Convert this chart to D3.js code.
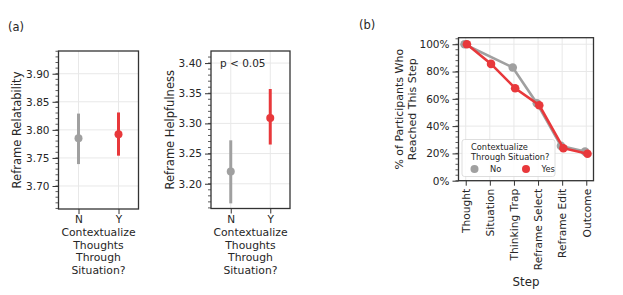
<!DOCTYPE html>
<html>
<head>
<meta charset="utf-8">
<script src="https://cdn.jsdelivr.net/npm/d3@7"></script>
<style>
  body { margin: 0; background: white; }
  text { font-family: "DejaVu Sans", sans-serif; fill: #262626; }
</style>
</head>
<body>
<div id="chart"></div>
<script>
// data
const groups = ["N", "Y"];
const relatabilityMean = [3.785, 3.792];
const relatabilityLow = [3.739, 3.754];
const relatabilityHigh = [3.829, 3.831];
const relatabilityTicks = [3.70, 3.75, 3.80, 3.85, 3.90];

const helpfulnessMean = [3.2205, 3.309];
const helpfulnessLow = [3.1675, 3.265];
const helpfulnessHigh = [3.272, 3.357];
const helpfulnessTicks = [3.20, 3.25, 3.30, 3.35, 3.40];

const steps = ["Thought", "Situation", "Thinking Trap", "Reframe Select", "Reframe Edit", "Outcome"];
const reachedNo = [1.00, null, 0.83, 0.568, 0.255, 0.213];
const reachedYes = [1.00, 0.856, 0.678, 0.553, 0.238, 0.198];
const percentTicks = [0, 0.2, 0.4, 0.6, 0.8, 1.0];

const grey = "#a0a0a0";
const red = "#e8383b";
const gridColor = "#e8e8e8";
const frameColor = "#333333";

const svg = d3.select("#chart").append("svg")
    .attr("width", 623)
    .attr("height", 295);

svg.append("rect").attr("width", 623).attr("height", 295).attr("fill", "white");

// panel labels
svg.append("text").attr("x", 8).attr("y", 31).style("font-size", "11.5px").text("(a)");
svg.append("text").attr("x", 359).attr("y", 29).style("font-size", "11.5px").text("(b)");

// helper: draw minor ticks on the left side
function minorTicks(g, scale, x0, step) {
    const [lo, hi] = scale.domain();
    const vals = d3.range(Math.ceil(lo / step - 1e-6) * step, hi, step);
    g.selectAll(".minor").data(vals).enter().append("line")
        .attr("x1", x0 - 3).attr("x2", x0)
        .attr("y1", d => scale(d)).attr("y2", d => scale(d))
        .attr("stroke", frameColor).attr("stroke-width", 0.8);
}

// point panel (a)
function pointPanel(opts) {
    const g = svg.append("g");
    const x = d3.scalePoint().domain(groups).range([opts.left, opts.right]).padding(0.5);
    const y = d3.scaleLinear().domain(opts.domain).range([opts.bottom, opts.top]);

    // grid
    g.selectAll(".hgrid").data(opts.ticks).enter().append("line")
        .attr("x1", opts.left).attr("x2", opts.right)
        .attr("y1", d => y(d)).attr("y2", d => y(d))
        .attr("stroke", gridColor).attr("stroke-width", 1);
    g.selectAll(".vgrid").data(groups).enter().append("line")
        .attr("x1", d => x(d)).attr("x2", d => x(d))
        .attr("y1", opts.top).attr("y2", opts.bottom)
        .attr("stroke", gridColor).attr("stroke-width", 1);

    // error bars and points
    const colors = [grey, red];
    groups.forEach((grp, i) => {
        g.append("line")
            .attr("x1", x(grp)).attr("x2", x(grp))
            .attr("y1", y(opts.low[i])).attr("y2", y(opts.high[i]))
            .attr("stroke", colors[i]).attr("stroke-width", 3);
        g.append("circle")
            .attr("cx", x(grp)).attr("cy", y(opts.mean[i]))
            .attr("r", 4).attr("fill", colors[i]);
    });

    // y axis
    const yAxis = g.append("g")
        .attr("transform", `translate(${opts.left},0)`)
        .call(d3.axisLeft(y).tickValues(opts.ticks).tickFormat(d3.format(".2f")).tickSize(6).tickPadding(3));
    yAxis.select(".domain").remove();
    yAxis.selectAll(".tick line").attr("stroke", frameColor).attr("stroke-width", 1);
    yAxis.selectAll(".tick text").style("font-size", "10.5px").attr("fill", "#262626");
    minorTicks(g, y, opts.left, 0.01);

    // x axis
    const xAxis = g.append("g")
        .attr("transform", `translate(0,${opts.bottom})`)
        .call(d3.axisBottom(x).tickSize(5).tickPadding(2));
    xAxis.select(".domain").remove();
    xAxis.selectAll(".tick line").attr("stroke", frameColor);
    xAxis.selectAll(".tick text").style("font-size", "10.5px").attr("fill", "#262626");

    // frame
    g.append("rect")
        .attr("x", opts.left).attr("y", opts.top)
        .attr("width", opts.right - opts.left).attr("height", opts.bottom - opts.top)
        .attr("fill", "none").attr("stroke", frameColor).attr("stroke-width", 1.3);

    // labels
    g.append("text")
        .attr("transform", `translate(${opts.labelX},${(opts.top + opts.bottom) / 2}) rotate(-90)`)
        .attr("text-anchor", "middle").attr("dy", "0.35em")
        .style("font-size", "11.5px").text(opts.label);

    // x label, one text per line
    ["Contextualize", "Thoughts", "Through", "Situation?"].forEach((t, i) => {
        g.append("text").attr("text-anchor", "middle").style("font-size", "10.8px")
            .attr("x", (opts.left + opts.right) / 2).attr("y", 236 + i * 12.6).text(t);
    });
    return { g, x, y };
}

pointPanel({
    left: 58.5, right: 138.5, top: 51, bottom: 209,
    domain: [3.659, 3.9405], ticks: relatabilityTicks,
    mean: relatabilityMean, low: relatabilityLow, high: relatabilityHigh,
    label: "Reframe Relatability", labelX: 17
});

const p2 = pointPanel({
    left: 211, right: 290, top: 51, bottom: 208.5,
    domain: [3.159, 3.42], ticks: helpfulnessTicks,
    mean: helpfulnessMean, low: helpfulnessLow, high: helpfulnessHigh,
    label: "Reframe Helpfulness", labelX: 170
});
p2.g.append("text").attr("x", 220).attr("y", 67).style("font-size", "10.5px").text("p < 0.05");

// panel (b)
const bL = 458.5, bR = 593.5, bT = 37.7, bB = 180.7;
const gb = svg.append("g");
const xb = d3.scalePoint().domain(steps).range([bL, bR]).padding(0.3);
const yb = d3.scaleLinear().domain([0, 1.048]).range([bB, bT]);

gb.selectAll(".hgrid").data(percentTicks).enter().append("line")
    .attr("x1", bL).attr("x2", bR)
    .attr("y1", d => yb(d)).attr("y2", d => yb(d))
    .attr("stroke", gridColor).attr("stroke-width", 1);
gb.selectAll(".vgrid").data(steps).enter().append("line")
    .attr("x1", d => xb(d)).attr("x2", d => xb(d))
    .attr("y1", bT).attr("y2", bB)
    .attr("stroke", gridColor).attr("stroke-width", 1);

const series = [
    { name: "No", values: reachedNo, color: grey, dodge: -1.2 },
    { name: "Yes", values: reachedYes, color: red, dodge: 1.2 }
];
const line = d3.line().x(d => d.x).y(d => d.y);
series.forEach(s => {
    const pts = steps.map((st, i) => ({ x: xb(st) + s.dodge, y: s.values[i] == null ? null : yb(s.values[i]) }))
        .filter(p => p.y != null);
    gb.append("path").attr("d", line(pts))
        .attr("fill", "none").attr("stroke", s.color).attr("stroke-width", 2.6);
    gb.selectAll(null).data(pts).enter().append("circle")
        .attr("cx", d => d.x).attr("cy", d => d.y).attr("r", 4.3).attr("fill", s.color);
});

const yAxisB = gb.append("g")
    .attr("transform", `translate(${bL},0)`)
    .call(d3.axisLeft(yb).tickValues(percentTicks).tickFormat(d3.format(".0%")).tickSize(6).tickPadding(3));
yAxisB.select(".domain").remove();
yAxisB.selectAll(".tick line").attr("stroke", frameColor);
yAxisB.selectAll(".tick text").style("font-size", "10.5px").attr("fill", "#262626");
minorTicks(gb, yb, bL, 0.04);

const xAxisB = gb.append("g")
    .attr("transform", `translate(0,${bB})`)
    .call(d3.axisBottom(xb).tickSize(5));
xAxisB.select(".domain").remove();
xAxisB.selectAll(".tick line").attr("stroke", frameColor);
xAxisB.selectAll(".tick text")
    .style("font-size", "10.7px").attr("fill", "#262626")
    .attr("text-anchor", "end")
    .attr("transform", "rotate(-90)")
    .attr("x", -8).attr("y", 0).attr("dy", "0.35em");

gb.append("rect")
    .attr("x", bL).attr("y", bT).attr("width", bR - bL).attr("height", bB - bT)
    .attr("fill", "none").attr("stroke", frameColor).attr("stroke-width", 1.3);

const ylb = gb.append("text")
    .attr("transform", `translate(405,${(bT + bB) / 2}) rotate(-90)`)
    .attr("text-anchor", "middle").style("font-size", "11px");
ylb.append("tspan").attr("x", 0).attr("y", -2).text("% of Participants Who");
ylb.append("tspan").attr("x", 0).attr("y", 10.5).text("Reached This Step");

gb.append("text").attr("x", (bL + bR) / 2).attr("y", 285.5).attr("text-anchor", "middle")
    .style("font-size", "11.8px").text("Step");

// legend
const lg = gb.append("g");
lg.append("rect").attr("x", 462).attr("y", 139.5).attr("width", 93).attr("height", 37).attr("rx", 2.5)
    .attr("fill", "white").attr("fill-opacity", 0.85).attr("stroke", "#d6d6d6").attr("stroke-width", 0.8);
lg.append("text").attr("x", 471).attr("y", 149.5).style("font-size", "8.3px").text("Contextualize");
lg.append("text").attr("x", 471).attr("y", 159.5).style("font-size", "8.3px").text("Through Situation?");
series.forEach((s, i) => {
    const cx = 474.5 + i * 51.5;
    lg.append("circle").attr("cx", cx).attr("cy", 169).attr("r", 4).attr("fill", s.color);
    lg.append("text").attr("x", cx + 15.5).attr("y", 172).style("font-size", "8.3px").text(s.name);
});
</script>
</body>
</html>
